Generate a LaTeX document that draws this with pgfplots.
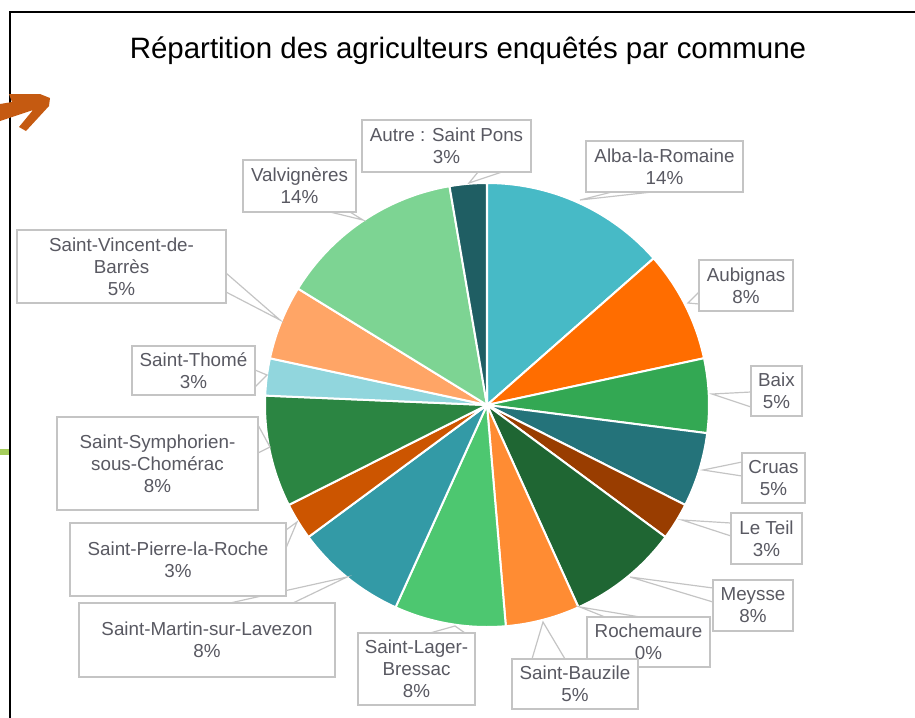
\documentclass[border=0pt]{standalone}
\usepackage{fontspec}
\setmainfont{Liberation Sans}
\usepackage{pgfplots}
\pgfplotsset{compat=1.18}

\definecolor{cAlba}{HTML}{47BAC6}
\definecolor{cAub}{HTML}{FF6D00}
\definecolor{cBaix}{HTML}{33A853}
\definecolor{cCruas}{HTML}{24737A}
\definecolor{cTeil}{HTML}{993D00}
\definecolor{cMeysse}{HTML}{1F6633}
\definecolor{cBauz}{HTML}{FF8C33}
\definecolor{cLager}{HTML}{4DC770}
\definecolor{cMartin}{HTML}{339AA6}
\definecolor{cPierre}{HTML}{CC5500}
\definecolor{cSymph}{HTML}{2B8542}
\definecolor{cThome}{HTML}{91D6DD}
\definecolor{cVinc}{HTML}{FFA566}
\definecolor{cValv}{HTML}{7DD493}
\definecolor{cPons}{HTML}{1F5E63}
\definecolor{boxc}{HTML}{C4C4C4}
\definecolor{txtc}{HTML}{595962}
\definecolor{arrowc}{HTML}{C55A11}
\definecolor{greenbar}{HTML}{A5CD5C}

\newcommand{\lf}{\fontsize{14.1}{16.5}\selectfont}
% slice: start (cumulative count), count, colour ; total = 37 farmers
\newcommand{\slice}[3]{%
  \addplot[fill=#3, draw=white, line width=1.5pt, line join=round,
    domain=#1*360/37:(#1+#2)*360/37, samples=60]
    ({487+222*sin(x)},{405-222*cos(x)}) -- (axis cs:487,405) -- cycle;}
\newcommand{\lbox}[5]{%
  \draw[boxc, fill=white, line width=0.9pt] (axis cs:#1,#2) rectangle (axis cs:#3,#4);
  \node[text=txtc, align=center, font=\lf, inner sep=0pt]
    at (axis cs:{(#1+#3)/2},{(#2+#4)/2}) {#5};}
\newcommand{\pointer}[6]{%
  \draw[boxc, line width=0.9pt] (axis cs:#3,#4) -- (axis cs:#1,#2) -- (axis cs:#5,#6);}

\begin{document}
\begin{tikzpicture}
\begin{axis}[x=0.75pt, y=0.75pt, y dir=reverse,
  xmin=0, xmax=915, ymin=0, ymax=718, enlargelimits=false,
  hide axis, clip=false, anchor=south west, at={(0,0)}]

% counts: Alba 5, Aubignas 3, Baix 2, Cruas 2, Le Teil 1, Meysse 3, Rochemaure 0,
% Saint-Bauzile 2, Saint-Lager-Bressac 3, Saint-Martin 3, Saint-Pierre 1,
% Saint-Symphorien 3, Saint-Thome 1, Saint-Vincent 2, Valvigneres 5, Saint Pons 1
\slice{0}{5}{cAlba}
\slice{5}{3}{cAub}
\slice{8}{2}{cBaix}
\slice{10}{2}{cCruas}
\slice{12}{1}{cTeil}
\slice{13}{3}{cMeysse}
\slice{16}{2}{cBauz}
\slice{18}{3}{cLager}
\slice{21}{3}{cMartin}
\slice{24}{1}{cPierre}
\slice{25}{3}{cSymph}
\slice{28}{1}{cThome}
\slice{29}{2}{cVinc}
\slice{31}{5}{cValv}
\slice{36}{1}{cPons}

% frame and decorations
\draw[black, line width=1.5pt] (axis cs:10,718) -- (axis cs:10,12) -- (axis cs:915,12);
\draw[greenbar, line width=5pt] (axis cs:0,452) -- (axis cs:9,452);
\fill[arrowc] (axis cs:0,104) -- (axis cs:12,102) -- (axis cs:9,94) -- (axis cs:40,94)
  -- (axis cs:50,98) -- (axis cs:49,106) -- (axis cs:26,131) -- (axis cs:19,127)
  -- (axis cs:33,110) -- (axis cs:0,121) -- cycle;

% title
\node[font=\fontsize{22.1}{26}\selectfont, anchor=base, inner sep=0pt]
  at (axis cs:468,58) {Répartition des agriculteurs enquêtés par commune};

% callouts
\pointer{580}{200}{612}{192}{652}{192}
\lbox{586}{141}{743}{192}{Alba-la-Romaine\\14\%}
\pointer{469}{183}{478}{172}{502}{172}
\lbox{362}{120}{531}{172}{Autre : Saint Pons\\3\%}
\pointer{688}{303}{699}{292}{699}{304}
\lbox{699}{260}{793}{311}{Aubignas\\8\%}
\pointer{712}{394}{751}{392}{751}{407}
\lbox{751}{366}{802}{416}{Baix\\5\%}
\pointer{703}{470}{742}{462}{742}{476}
\lbox{742}{453}{805}{503}{Cruas\\5\%}
\pointer{682}{520}{731}{523}{731}{536}
\lbox{731}{513}{802}{564}{Le Teil\\3\%}
\pointer{630}{577}{713}{588}{713}{602}
\lbox{713}{580}{793}{631}{Meysse\\8\%}
\pointer{580}{607}{605}{617}{640}{617}
\lbox{587}{617}{710}{667}{Rochemaure\\0\%}
\pointer{543}{622}{532}{659}{565}{659}
\lbox{512}{659}{638}{709}{Saint-Bauzile\\5\%}
\pointer{455}{626}{430}{633}{465}{633}
\lbox{358}{633}{475}{705}{Saint-Lager-\\Bressac\\8\%}
\pointer{347}{577}{230}{603}{293}{603}
\lbox{79}{603}{335}{677}{Saint-Martin-sur-Lavezon\\8\%}
\pointer{297}{522}{286}{530}{286}{548}
\lbox{70}{523}{286}{596}{Saint-Pierre-la-Roche\\3\%}
\pointer{270}{447}{258}{425}{258}{453}
\lbox{57}{417}{258}{510}{Saint-Symphorien-\\sous-Chomérac\\8\%}
\pointer{267}{375}{255}{370}{255}{387}
\lbox{132}{346}{255}{395}{Saint-Thomé\\3\%}
\pointer{280}{320}{226}{273}{226}{292}
\lbox{17}{230}{226}{303}{Saint-Vincent-de-\\Barrès\\5\%}
\pointer{363}{220}{330}{212}{350}{212}
\lbox{243}{160}{356}{212}{Valvignères\\14\%}

\end{axis}
\pgfresetboundingbox
\useasboundingbox (0,0) rectangle (686.25pt,538.5pt);
\end{tikzpicture}
\end{document}
